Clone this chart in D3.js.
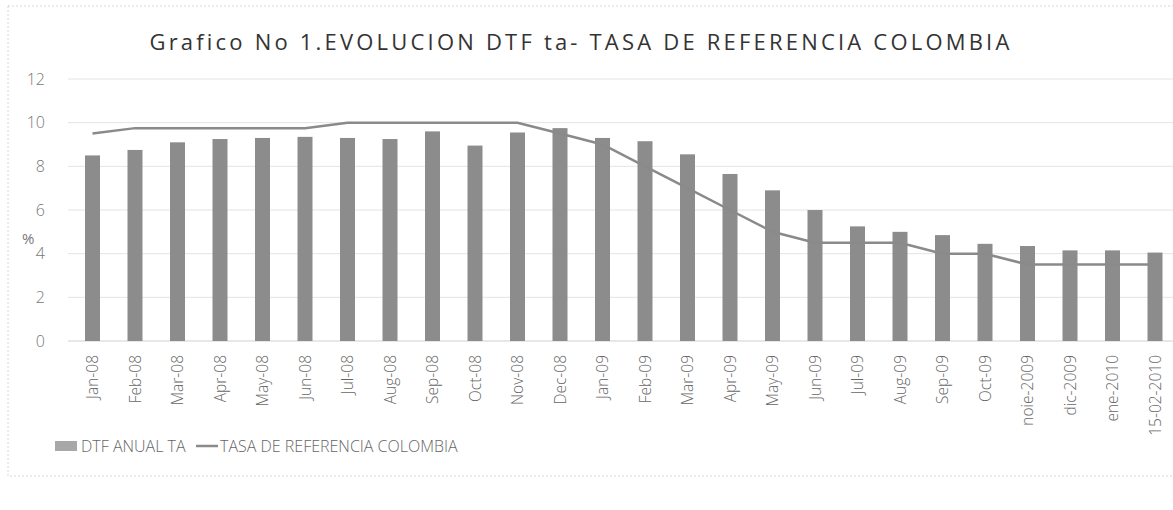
<!DOCTYPE html>
<html>
<head>
<meta charset="utf-8">
<script src="https://cdn.jsdelivr.net/npm/d3@7"></script>
<style>
  body { margin: 0; background: #fff; }
  text { font-family: "Open Sans", "Liberation Sans", sans-serif; }
</style>
</head>
<body>
<div id="chart"></div>
<script>
// data
var months = ["Jan-08", "Feb-08", "Mar-08", "Apr-08", "May-08", "Jun-08", "Jul-08", "Aug-08",
  "Sep-08", "Oct-08", "Nov-08", "Dec-08", "Jan-09", "Feb-09", "Mar-09", "Apr-09", "May-09",
  "Jun-09", "Jul-09", "Aug-09", "Sep-09", "Oct-09", "noie-2009", "dic-2009", "ene-2010", "15-02-2010"];
var dtf = [8.5, 8.75, 9.1, 9.25, 9.3, 9.35, 9.3, 9.25, 9.6, 8.95, 9.55, 9.75, 9.3,
  9.15, 8.55, 7.65, 6.9, 6.0, 5.25, 5.0, 4.85, 4.45, 4.35, 4.15, 4.15, 4.05];
var tasa = [9.5, 9.75, 9.75, 9.75, 9.75, 9.75, 10, 10, 10, 10, 10, 9.5, 9.0,
  8.0, 7.0, 6.0, 5.0, 4.5, 4.5, 4.5, 4.0, 4.0, 3.5, 3.5, 3.5, 3.5];
var yTicks = [0, 2, 4, 6, 8, 10, 12];

var svgWidth = 1173;
var svgHeight = 510;

var svg = d3.select("#chart")
  .append("svg")
  .attr("width", svgWidth)
  .attr("height", svgHeight);

// faint frame of the chart object
svg.append("rect")
  .attr("x", 8).attr("y", 6)
  .attr("width", svgWidth).attr("height", 470)
  .attr("fill", "none")
  .attr("stroke", "#d6d6d6")
  .attr("stroke-dasharray", "2,2");

var xScale = d3.scalePoint()
  .domain(months)
  .range([92.5, 1155]);

var yScale = d3.scaleLinear()
  .domain([0, 12])
  .range([341, 79]);

// gridlines
svg.append("g")
  .selectAll("line")
  .data(yTicks)
  .enter()
  .append("line")
  .attr("x1", 68)
  .attr("x2", svgWidth)
  .attr("y1", d => yScale(d))
  .attr("y2", d => yScale(d))
  .attr("stroke", d => d === 0 ? "#d0d0d0" : "#e4e4e4")
  .attr("stroke-width", 1);

// y axis labels
var leftAxis = d3.axisLeft(yScale).tickValues(yTicks).tickSize(0).tickPadding(0);
var yAxisG = svg.append("g")
  .attr("transform", "translate(45, 0)")
  .call(leftAxis);
yAxisG.select(".domain").remove();
yAxisG.selectAll("text")
  .style("font-size", "16px")
  .style("font-weight", "300")
  .attr("fill", "#777");

svg.append("text")
  .attr("x", 22)
  .attr("y", 244)
  .style("font-size", "15px")
  .attr("fill", "#777")
  .text("%");

// bars
var barWidth = 15;
svg.append("g")
  .selectAll("rect")
  .data(dtf)
  .enter()
  .append("rect")
  .attr("x", (d, i) => xScale(months[i]) - barWidth / 2)
  .attr("y", d => yScale(d))
  .attr("width", barWidth)
  .attr("height", d => yScale(0) - yScale(d))
  .attr("fill", "#8c8c8c");

// line
var line = d3.line()
  .x((d, i) => xScale(months[i]))
  .y(d => yScale(d));

svg.append("path")
  .datum(tasa)
  .attr("d", line)
  .attr("fill", "none")
  .attr("stroke", "#8a8a8a")
  .attr("stroke-width", 2.5);

// x axis labels (rotated)
var bottomAxis = d3.axisBottom(xScale).tickSize(0).tickPadding(0);
var xAxisG = svg.append("g")
  .attr("transform", "translate(0, 355)")
  .call(bottomAxis);
xAxisG.select(".domain").remove();
xAxisG.selectAll("text")
  .style("font-size", "15.5px")
  .style("font-weight", "300")
  .attr("fill", "#666")
  .attr("text-anchor", "end")
  .attr("transform", "rotate(-90)")
  .attr("x", 0)
  .attr("y", 0)
  .attr("dy", "0.35em");

// title
svg.append("text")
  .attr("x", 581)
  .attr("y", 50)
  .attr("text-anchor", "middle")
  .style("font-size", "22px")
  .style("letter-spacing", "3.2px")
  .attr("fill", "#333")
  .text("Grafico No 1.EVOLUCION DTF ta- TASA DE REFERENCIA COLOMBIA");

// legend
var legend = svg.append("g").attr("transform", "translate(55, 447)");
legend.append("rect")
  .attr("x", 0).attr("y", -6)
  .attr("width", 22).attr("height", 10)
  .attr("fill", "#a8a8a8");
legend.append("text")
  .attr("x", 26).attr("y", 5)
  .style("font-size", "16px")
  .style("font-weight", "300")
  .attr("fill", "#666")
  .text("DTF ANUAL TA");
legend.append("line")
  .attr("x1", 141).attr("x2", 163)
  .attr("y1", -1).attr("y2", -1)
  .attr("stroke", "#8a8a8a")
  .attr("stroke-width", 2.5);
legend.append("text")
  .attr("x", 165).attr("y", 5)
  .style("font-size", "16px")
  .style("font-weight", "300")
  .attr("fill", "#666")
  .text("TASA DE REFERENCIA COLOMBIA");
</script>
</body>
</html>
